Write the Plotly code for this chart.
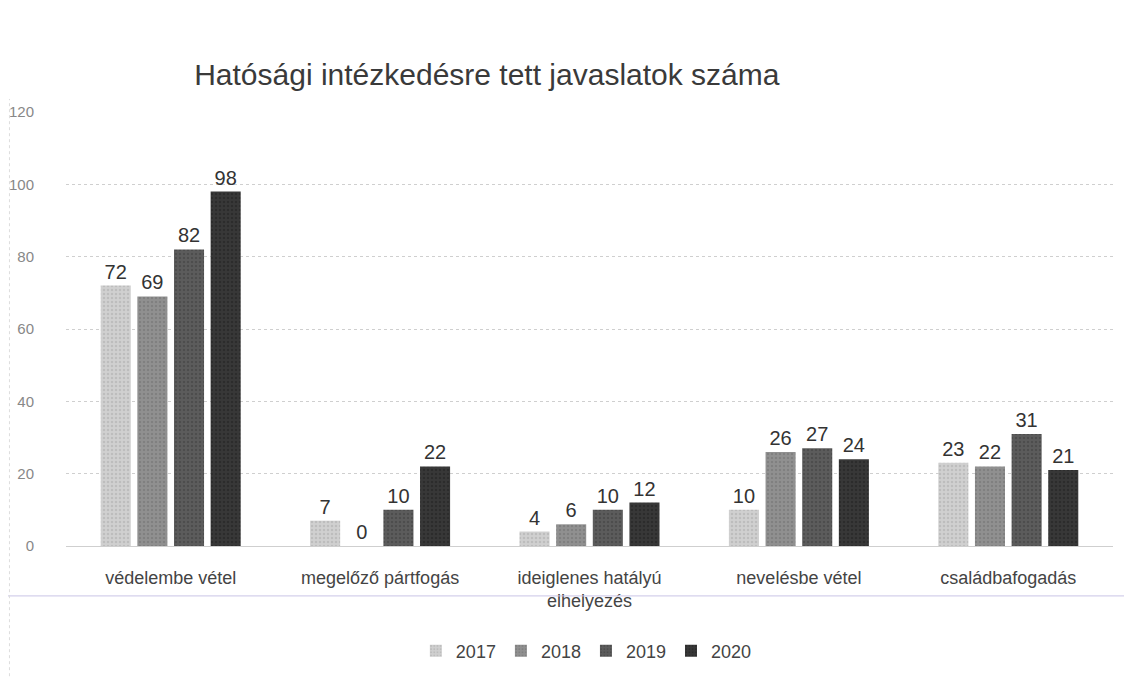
import plotly.graph_objects as go

categories = ["védelembe vétel", "megelőző pártfogás", "ideiglenes hatályú<br>elhelyezés",
              "nevelésbe vétel", "családbafogadás"]
years = ["2017", "2018", "2019", "2020"]
v2017 = [72, 7, 4, 10, 23]
v2018 = [69, 0, 6, 26, 22]
v2019 = [82, 10, 10, 27, 31]
v2020 = [98, 22, 12, 24, 21]
series = [v2017, v2018, v2019, v2020]
y_ticks = [0, 20, 40, 60, 80, 100, 120]

colors = ["#d0d0d0", "#909090", "#5c5c5c", "#383838"]
pat_fg = ["#a9a9a9", "#6f6f6f", "#3e3e3e", "#1f1f1f"]

fig = go.Figure()
for name, vals, c, pf in zip(years, series, colors, pat_fg):
    fig.add_trace(go.Bar(
        x=categories, y=vals, name=name,
        marker=dict(color=c, line=dict(width=0),
                    pattern=dict(shape=".", fgcolor=pf, size=4, solidity=0.3)),
        text=[str(v) for v in vals], textposition="outside", cliponaxis=False,
        textfont=dict(size=20, color="#333333", family="Liberation Sans, Arial"),
    ))

fig.update_layout(
    width=1124, height=676,
    margin=dict(l=58, r=19, t=104, b=138, autoexpand=False),
    paper_bgcolor="white", plot_bgcolor="white",
    barmode="group", bargap=0.30, bargroupgap=0.18,
    title=dict(text="Hatósági intézkedésre tett javaslatok száma",
               x=0.426, xanchor="center", y=0.901, yanchor="middle",
               font=dict(size=30, color="#3a3a3a", family="Liberation Sans, Arial")),
    font=dict(family="Liberation Sans, Arial", color="#444444"),
    legend=dict(orientation="h", x=0.497, xanchor="center", y=-0.242, yanchor="middle",
                font=dict(size=18, color="#444444"), itemwidth=30, traceorder="normal"),
    showlegend=True,
)
fig.update_yaxes(range=[0, 120], tickvals=y_ticks, showgrid=True, automargin=False,
                 gridcolor="#cfcfcf", griddash="dot", gridwidth=1,
                 zeroline=True, zerolinecolor="#cfcfcf", zerolinewidth=1,
                 tickfont=dict(size=15, color="#888888"), ticklabelstandoff=31,
                 showline=False)
fig.update_xaxes(tickfont=dict(size=18, color="#444444"), showline=False, ticks="",
                 ticklabelstandoff=19, automargin=False)

# scan artifacts: horizontal line and left dotted line
fig.add_shape(type="line", xref="paper", yref="paper", x0=-0.056, x1=1.02,
              y0=-0.115, y1=-0.115, line=dict(color="#c9c4e6", width=1))
fig.add_shape(type="line", xref="paper", yref="paper", x0=-0.054, x1=-0.054,
              y0=-0.3, y1=1.03, line=dict(color="#dddddd", width=1, dash="dot"))

fig.write_html("out.html")
